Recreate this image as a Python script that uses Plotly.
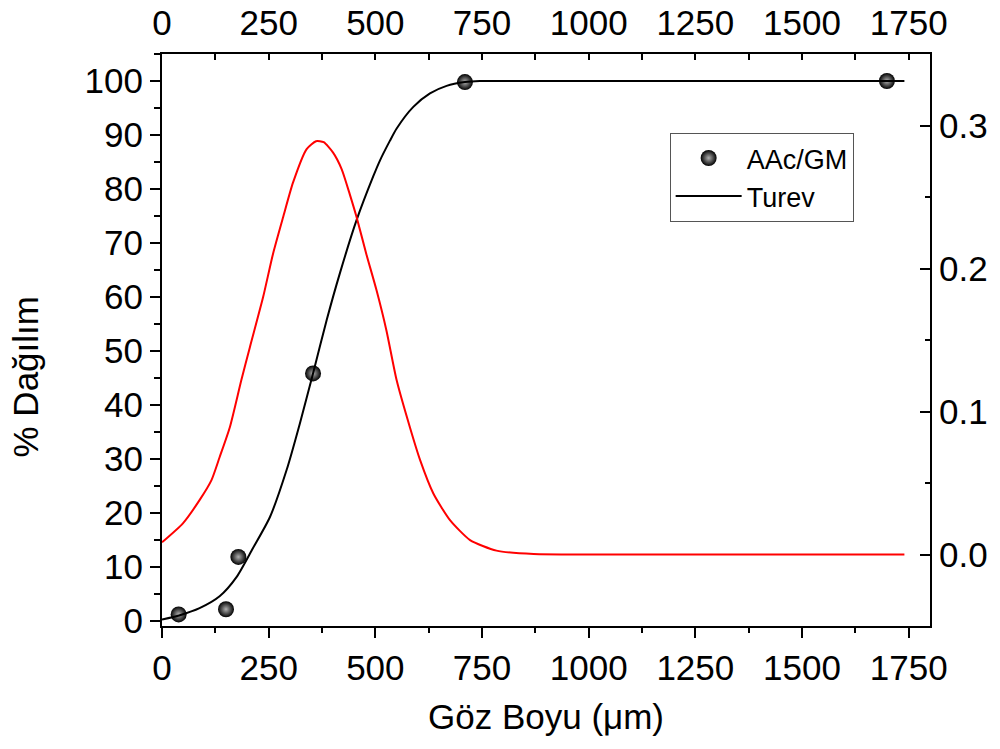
import plotly.graph_objects as go

# Measured points (AAc/GM), left axis (%)
pts_x = [39, 150, 179, 354, 710, 1699]
pts_y = [1.15, 2.1, 11.8, 45.8, 99.8, 100.0]

# Black cumulative curve, left axis (%)
cum_x = [0, 42, 88, 135, 175, 213, 253, 292, 323, 354, 386, 417, 456, 495, 511,
         534, 550, 589, 628, 667, 710, 745, 822, 1000, 1250, 1500, 1740]
cum_y = [0.2, 1.0, 2.3, 4.5, 8.1, 13.4, 19.2, 27.9, 36.5, 45.8, 55.7, 64.4, 74.2,
         82.3, 85.3, 88.9, 91.2, 95.2, 97.7, 99.1, 99.8, 100.0, 100.0, 100.0,
         100.0, 100.0, 100.0]

# Red derivative curve, right axis
der_x = [0, 49, 88, 116, 135, 159, 186, 206, 237, 260, 284, 307, 339, 361, 379,
         401, 421, 440, 456, 479, 503, 526, 550, 581, 605, 636, 675, 722, 784,
         871, 1000, 1250, 1500, 1740]
der_y = [0.0085, 0.0218, 0.038, 0.052, 0.068, 0.089, 0.122, 0.145, 0.180, 0.210,
         0.236, 0.260, 0.2835, 0.289, 0.2883, 0.281, 0.2695, 0.252, 0.236, 0.210,
         0.1846, 0.1567, 0.1218, 0.089, 0.066, 0.0427, 0.024, 0.0101, 0.0027,
         0.0003, 0.0, 0.0, 0.0, 0.0]

x_ticks = [0, 250, 500, 750, 1000, 1250, 1500, 1750]
x_range = [0, 1800]
y_range = [-1, 105]
y2_range = [-0.05, 0.35]

FONT = "Liberation Sans, Arial, sans-serif"
TICK_SIZE = 35

fig = go.Figure()

fig.add_trace(go.Scatter(
    x=der_x, y=der_y, mode="lines", xaxis="x", yaxis="y2",
    line=dict(color="#ff0000", width=2, shape="spline", smoothing=0.6),
    showlegend=False, name="der"))

fig.add_trace(go.Scatter(
    x=pts_x, y=pts_y, mode="markers", name="AAc/GM",
    marker=dict(symbol="circle", size=16, color="#000000",
                gradient=dict(type="radial", color="#b0b0b0"),
                line=dict(width=0))))

fig.add_trace(go.Scatter(
    x=cum_x, y=cum_y, mode="lines", name="Turev",
    line=dict(color="#000000", width=2, shape="spline", smoothing=0.7)))

# dummy trace to show top axis
fig.add_trace(go.Scatter(x=[None], y=[None], xaxis="x2", yaxis="y",
                         showlegend=False, hoverinfo="skip"))

axis_common = dict(showline=True, linecolor="black", linewidth=2,
                   showgrid=False, zeroline=False, tickcolor="black",
                   tickwidth=2, automargin=False,
                   tickfont=dict(family=FONT, size=TICK_SIZE, color="black"))

fig.update_layout(
    width=1000, height=749,
    margin=dict(l=162, r=70, t=54, b=123),
    paper_bgcolor="white", plot_bgcolor="white",
    font=dict(family=FONT, color="black"),
    xaxis=dict(range=x_range, tickvals=x_ticks, ticks="outside", ticklen=10,
               minor=dict(dtick=125, tick0=0, ticks="outside", ticklen=5,
                          tickwidth=2, tickcolor="black"),
               title=dict(text="Göz Boyu (μm)", font=dict(family=FONT, size=35),
                          standoff=18),
               **axis_common),
    xaxis2=dict(range=x_range, tickvals=x_ticks, overlaying="x", side="top",
                anchor="y", ticks="inside", ticklen=6, ticklabelstandoff=3,
                minor=dict(dtick=125, tick0=0, ticks="inside", ticklen=6,
                           tickwidth=2, tickcolor="black"),
                **axis_common),
    yaxis=dict(range=y_range, tick0=0, dtick=10, ticks="outside", ticklen=10,
               minor=dict(dtick=5, tick0=0, ticks="outside", ticklen=6,
                          tickwidth=2, tickcolor="black"),
               **axis_common),
    yaxis2=dict(range=y2_range, tick0=0, dtick=0.1, tickformat=".1f",
                overlaying="y", side="right", anchor="x", ticks="inside",
                ticklen=10,
                minor=dict(dtick=0.05, tick0=0, ticks="inside", ticklen=5,
                           tickwidth=2, tickcolor="black"),
                **axis_common),
    legend=dict(x=0.661, y=0.862, xanchor="left", yanchor="top",
                bgcolor="white", bordercolor="#555555", borderwidth=1,
                font=dict(family=FONT, size=27, color="black"),
                itemwidth=66, tracegroupgap=0),
    annotations=[dict(text="% Dağılım", xref="paper", yref="paper",
                      x=-0.178, y=0.435, xanchor="center", yanchor="middle",
                      textangle=-90, showarrow=False,
                      font=dict(family=FONT, size=35, color="black"))],
)

fig.write_html("out.html")
